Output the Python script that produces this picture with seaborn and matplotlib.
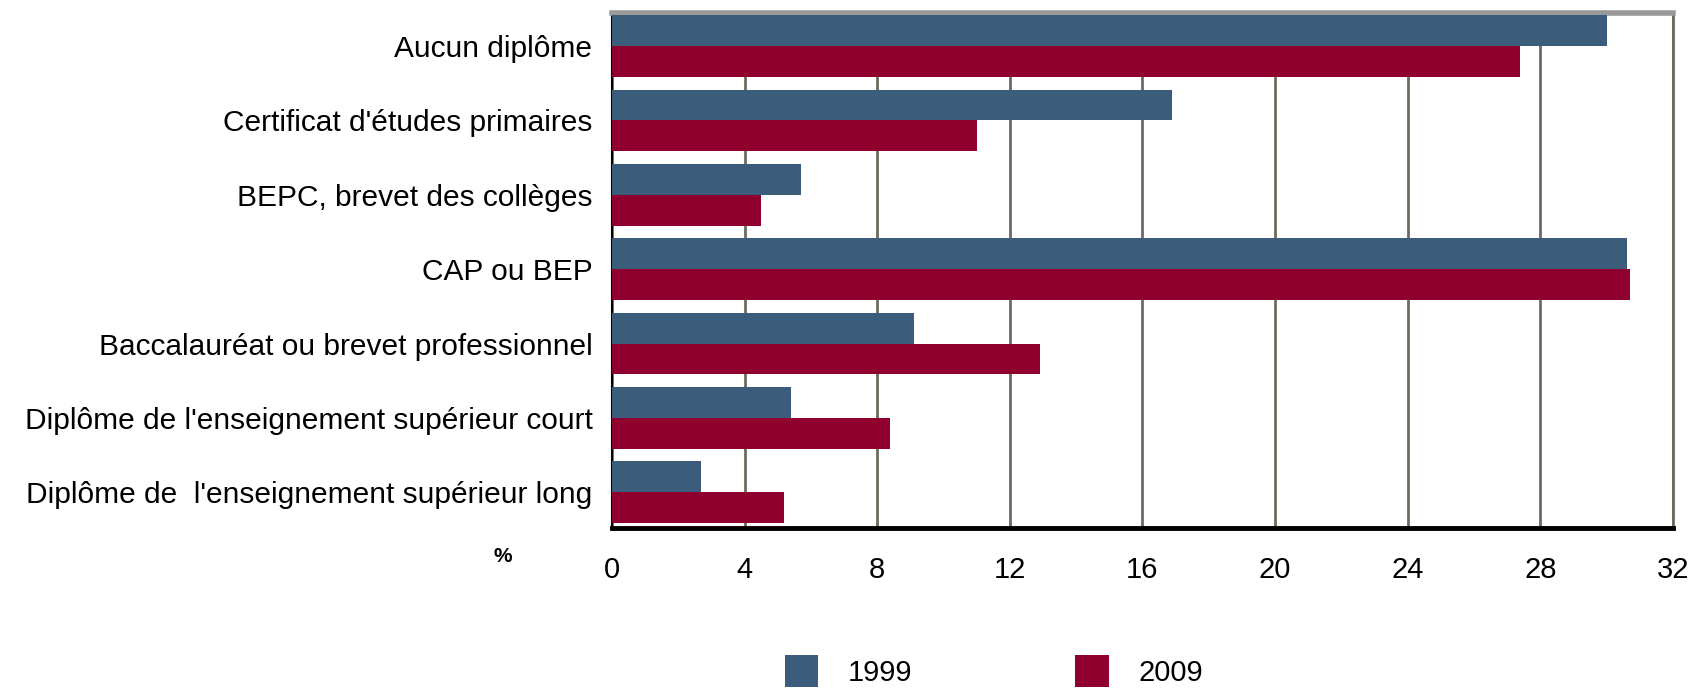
import matplotlib
matplotlib.use("Agg")
import matplotlib.pyplot as plt
import seaborn as sns
import pandas as pd

categories = [
    "Aucun diplôme",
    "Certificat d'études primaires",
    "BEPC, brevet des collèges",
    "CAP ou BEP",
    "Baccalauréat ou brevet professionnel",
    "Diplôme de l'enseignement supérieur court",
    "Diplôme de  l'enseignement supérieur long",
]
values_1999 = [30.0, 16.9, 5.7, 30.6, 9.1, 5.4, 2.7]
values_2009 = [27.4, 11.0, 4.5, 30.7, 12.9, 8.4, 5.2]
years = ["1999", "2009"]
x_ticks = [0, 4, 8, 12, 16, 20, 24, 28, 32]

df = pd.DataFrame({
    "cat": categories * 2,
    "val": values_1999 + values_2009,
    "year": [years[0]] * len(categories) + [years[1]] * len(categories),
})

sns.set_theme(style="white")
plt.rcParams["font.family"] = ["Liberation Sans", "DejaVu Sans"]
plt.rcParams["text.color"] = "black"
plt.rcParams["xtick.color"] = "black"
plt.rcParams["ytick.color"] = "black"

fig = plt.figure(figsize=(16.96, 6.92), dpi=100)
ax = fig.add_axes([0.3608, 0.237, 0.9864 - 0.3608, 0.9812 - 0.237])

sns.barplot(data=df, y="cat", x="val", hue="year", orient="h",
            palette=["#3C5C7B", "#8F002E"], width=0.83, saturation=1,
            linewidth=0, ax=ax, zorder=3)

ax.set_xlim(0, 32)
ax.set_ylim(6.48, -0.444)
ax.set_xticks(x_ticks)
ax.set_xticklabels([str(t) for t in x_ticks], fontsize=21)
ax.tick_params(axis="y", labelsize=21.5, length=0, pad=14, labelcolor="black")
ax.tick_params(axis="x", length=0, pad=20, labelcolor="black")
ax.set_xlabel("")
ax.set_ylabel("")
ax.xaxis.grid(True, color="#6B6B5F", lw=2.0, zorder=0)
ax.yaxis.grid(False)
ax.set_axisbelow(True)

for s in ["left", "bottom", "top", "right"]:
    ax.spines[s].set_visible(True)
ax.spines["left"].set_color("black")
ax.spines["left"].set_linewidth(1.5)
ax.spines["bottom"].set_color("black")
ax.spines["bottom"].set_linewidth(3.5)
ax.spines["top"].set_color("#999999")
ax.spines["top"].set_linewidth(4)
ax.spines["right"].set_color("#6B6B5F")
ax.spines["right"].set_linewidth(2.0)

fig.text(503 / 1696, 1 - 556 / 692, "%", fontsize=15, fontweight="bold",
         ha="center", va="center")

handles, labels = ax.get_legend_handles_labels()
ax.get_legend().remove()
fig.legend(handles, labels, loc="center", bbox_to_anchor=(0.586, 0.03),
           ncol=2, frameon=False, fontsize=21, handlelength=1.15,
           handleheight=1.3, handletextpad=1.0, columnspacing=5.6)

fig.savefig("out.png", dpi=100)
